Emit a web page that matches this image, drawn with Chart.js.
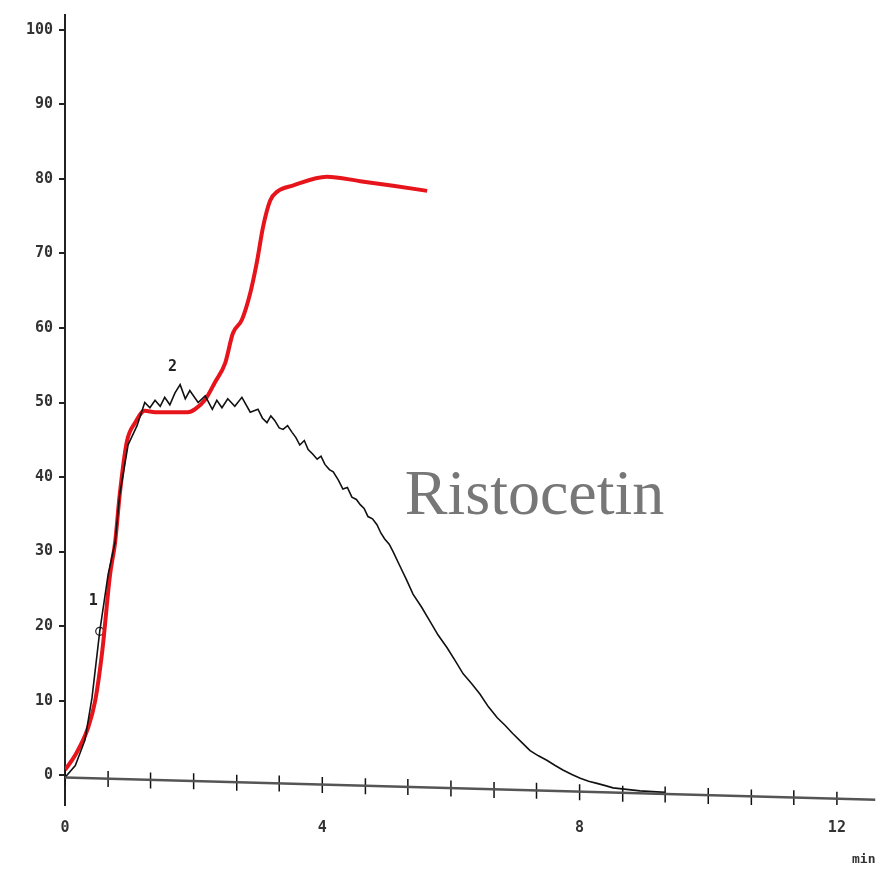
<!DOCTYPE html>
<html>
<head>
<meta charset="utf-8">
<script src="https://cdn.jsdelivr.net/npm/chart.js@4/dist/chart.umd.min.js"></script>
<style>
  html, body { margin: 0; padding: 0; background: #fff; }
  #wrap { width: 885px; height: 877px; position: relative; }
</style>
</head>
<body>
<div id="wrap"><canvas id="chart"></canvas></div>
<script>
// values (x in min, y in % aggregation)
const redX = [0, 0.16, 0.36, 0.47, 0.58, 0.70, 0.78, 0.85, 0.96, 1.09, 1.24, 1.40, 1.91, 2.02, 2.18, 2.33, 2.49, 2.61, 2.75, 2.88, 2.98, 3.08, 3.19, 3.30, 3.54, 4.07, 4.59, 5.10, 5.63];
const redY = [0.7, 2.7, 6.4, 10, 16.7, 26.9, 31.3, 37.6, 44.7, 47.3, 48.9, 48.7, 48.7, 49.1, 50.4, 52.7, 55.3, 59.3, 61.1, 64.7, 68.7, 73.6, 77.1, 78.3, 79.1, 80.3, 79.7, 79.1, 78.4];

const blackX = [0, 0.03, 0.16, 0.31, 0.42, 0.54, 0.67, 0.78, 0.85, 0.98, 1.12, 1.24, 1.32, 1.40, 1.48, 1.55, 1.63, 1.71, 1.79, 1.87, 1.94, 2.07, 2.18, 2.29, 2.36, 2.44, 2.53, 2.64, 2.75, 2.88, 3.00, 3.07, 3.14, 3.20, 3.26, 3.33, 3.39, 3.46, 3.53, 3.59, 3.65, 3.72, 3.78, 3.85, 3.92, 3.98, 4.04, 4.11, 4.17, 4.25, 4.32, 4.39, 4.46, 4.53, 4.59, 4.65, 4.71, 4.78, 4.85, 4.91, 4.97, 5.04, 5.10, 5.21, 5.31, 5.41, 5.54, 5.67, 5.80, 5.94, 6.07, 6.19, 6.32, 6.45, 6.58, 6.72, 6.84, 6.96, 7.10, 7.23, 7.36, 7.49, 7.62, 7.74, 7.88, 8.01, 8.14, 8.27, 8.40, 8.52, 8.73, 8.94, 9.33];
const blackY = [-0.4, 0, 1.3, 4.7, 10.4, 19.3, 26.9, 31.3, 37.6, 44.3, 46.9, 50.0, 49.3, 50.3, 49.5, 50.7, 49.7, 51.3, 52.4, 50.5, 51.6, 50.0, 50.9, 49.1, 50.3, 49.3, 50.5, 49.5, 50.7, 48.7, 49.1, 47.9, 47.3, 48.2, 47.6, 46.6, 46.4, 46.9, 46.0, 45.3, 44.3, 44.9, 43.7, 43.1, 42.4, 42.8, 41.7, 41.0, 40.7, 39.6, 38.4, 38.6, 37.3, 37.0, 36.3, 35.8, 34.7, 34.4, 33.6, 32.5, 31.7, 31.0, 30.0, 28.0, 26.2, 24.3, 22.6, 20.7, 18.8, 17.1, 15.3, 13.6, 12.3, 10.9, 9.2, 7.7, 6.7, 5.6, 4.4, 3.3, 2.6, 2.0, 1.3, 0.7, 0.1, -0.4, -0.8, -1.1, -1.4, -1.7, -1.9, -2.1, -2.3];

// drifting baseline of the recorder and its tick marks (every 40 s)
const baseX = [0, 12.6];
const baseY = [-0.3, -3.3];
const baseTickX = [0, 0.67, 1.33, 2, 2.67, 3.33, 4, 4.67, 5.33, 6, 6.67, 7.33, 8, 8.67, 9.33, 10, 10.67, 11.33, 12];
const baseTickY = [-0.3, -0.5, -0.7, -0.8, -1.0, -1.1, -1.3, -1.5, -1.6, -1.8, -2.0, -2.1, -2.3, -2.5, -2.6, -2.8, -3.0, -3.1, -3.3];

const xTicks = [0, 4, 8, 12];
const yTicks = [0, 10, 20, 30, 40, 50, 60, 70, 80, 90, 100];

// marker "1" circle on the black trace
const markX = [0.54];
const markY = [19.3];

const notes = [
  { text: '1', x: 0.44, y: 23.3 },
  { text: '2', x: 1.67, y: 54.7 }
];

const pts = (xs, ys) => xs.map((x, i) => ({ x: x, y: ys[i] }));

const textPlugin = {
  id: 'texts',
  afterDatasetsDraw(chart) {
    const { ctx, scales } = chart;
    ctx.save();
    ctx.fillStyle = '#222';
    ctx.font = 'bold 15px "DejaVu Sans Mono"';
    ctx.textAlign = 'center';
    ctx.textBaseline = 'middle';
    notes.forEach(n => {
      ctx.fillText(n.text, scales.x.getPixelForValue(n.x), scales.y.getPixelForValue(n.y));
    });
    ctx.fillStyle = '#777';
    ctx.font = '64px "Liberation Serif"';
    ctx.fillText('Ristocetin', scales.x.getPixelForValue(7.3), scales.y.getPixelForValue(37.3));
    ctx.restore();
  }
};

new Chart(document.getElementById('chart'), {
  type: 'scatter',
  data: {
    datasets: [
      {
        data: pts(baseX, baseY),
        showLine: true,
        borderColor: '#555',
        borderWidth: 2.5,
        pointRadius: 0
      },
      {
        data: pts(baseTickX, baseTickY),
        showLine: false,
        pointStyle: 'line',
        rotation: 90,
        pointRadius: 8,
        borderColor: '#111',
        borderWidth: 1.5
      },
      {
        data: pts(blackX, blackY),
        showLine: true,
        borderColor: '#111',
        borderWidth: 1.6,
        pointRadius: 0,
        tension: 0
      },
      {
        data: pts(redX, redY),
        showLine: true,
        borderColor: '#e8141b',
        borderWidth: 4,
        pointRadius: 0,
        cubicInterpolationMode: 'monotone'
      },
      {
        data: pts(markX, markY),
        showLine: false,
        pointStyle: 'circle',
        pointRadius: 4,
        backgroundColor: 'rgba(0,0,0,0)',
        borderColor: '#222',
        borderWidth: 1.2
      }
    ]
  },
  options: {
    responsive: true,
    maintainAspectRatio: false,
    animation: false,
    layout: { padding: { top: 10, right: 9, left: 0, bottom: 6 } },
    plugins: {
      legend: { display: false },
      tooltip: { enabled: false }
    },
    scales: {
      x: {
        type: 'linear',
        min: 0,
        max: 12.6,
        afterBuildTicks: s => { s.ticks = xTicks.map(v => ({ value: v })); },
        afterFit: s => { s.height = 66; },
        grid: { display: false },
        border: { display: false },
        ticks: {
          color: '#333',
          font: { family: 'DejaVu Sans Mono', size: 15, weight: 'bold' },
          padding: 6,
          maxRotation: 0
        },
        title: {
          display: true,
          text: 'min',
          align: 'end',
          color: '#333',
          font: { family: 'DejaVu Sans Mono', size: 13, weight: 'bold' },
          padding: { top: 16 }
        }
      },
      y: {
        type: 'linear',
        min: -4,
        max: 102,
        afterBuildTicks: s => { s.ticks = yTicks.map(v => ({ value: v })); },
        afterFit: s => { s.width = 65; },
        grid: { drawOnChartArea: false, color: '#222', tickLength: 6, lineWidth: 2 },
        border: { display: true, color: '#222', width: 2 },
        ticks: {
          color: '#333',
          font: { family: 'DejaVu Sans Mono', size: 15, weight: 'bold' },
          padding: 6
        }
      }
    }
  },
  plugins: [textPlugin]
});
</script>
</body>
</html>
